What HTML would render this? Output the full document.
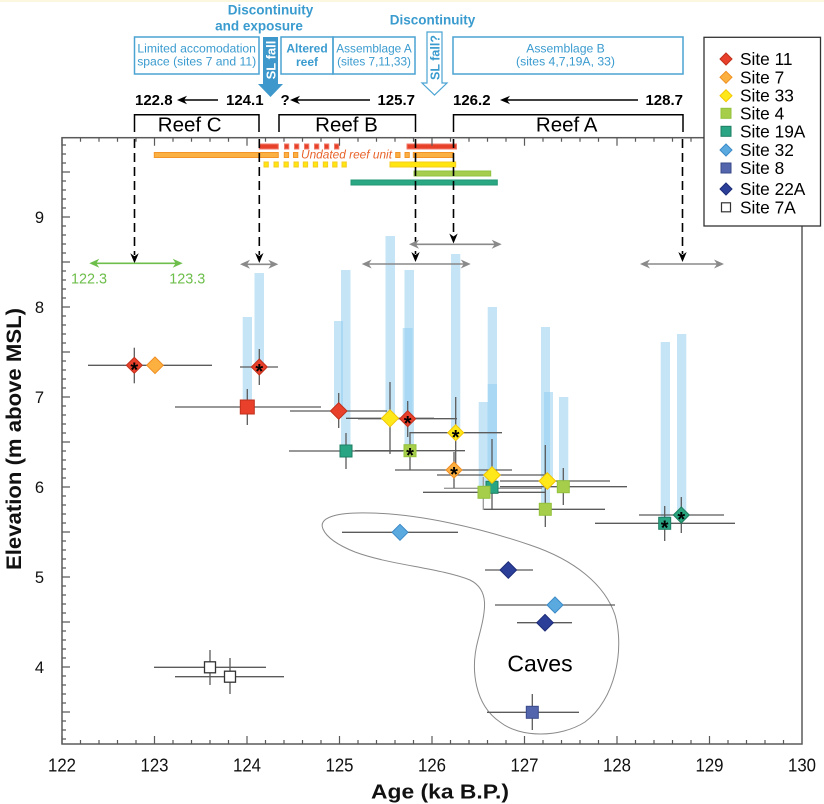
<!DOCTYPE html>
<html><head><meta charset="utf-8">
<style>
html,body{margin:0;padding:0;background:#fff;}
svg{display:block;}
text{font-family:"Liberation Sans",Arial,sans-serif;}
</style></head><body>
<svg width="824" height="804" viewBox="0 0 824 804" xmlns="http://www.w3.org/2000/svg">
<rect width="824" height="804" fill="#fff"/>
<rect width="824" height="2" fill="#fbf8df"/>

<!-- Header texts -->
<g fill="#3a9bcf" font-weight="bold" font-size="13.5" text-anchor="middle">
<text x="270.5" y="14.5">Discontinuity</text>
<text x="259" y="30.5">and exposure</text>
<text x="432.5" y="24.5">Discontinuity</text>
</g>
<g fill="none" stroke="#4ba3d3" stroke-width="1.5">
<rect x="134.5" y="37" width="124.5" height="37"/>
<rect x="281" y="37" width="52" height="37"/>
<rect x="333" y="37" width="82" height="37"/>
<rect x="453" y="37" width="230" height="37"/>
</g>
<g fill="#3a9bcf" font-size="12.2" text-anchor="middle">
<text x="196.7" y="52.5">Limited accomodation</text>
<text x="196.7" y="65.5">space (sites 7 and 11)</text>
<text x="374" y="52.5" font-size="11.8">Assemblage A</text>
<text x="374" y="65.5" font-size="11.8">(sites 7,11,33)</text>
<text x="565.5" y="52.5">Assemblage B</text>
<text x="565.5" y="65.5">(sites 4,7,19A, 33)</text>
<text x="307" y="52.5" font-weight="bold" font-size="12">Altered</text>
<text x="307" y="66" font-weight="bold" font-size="12">reef</text>
</g>
<!-- SL fall arrow -->
<polygon points="263,37 278,37 278,84 283,84 270.5,97 258,84 263,84" fill="#3f98cb"/>
<text transform="translate(275.5,60) rotate(-90)" fill="#fff" font-weight="bold" font-size="13" text-anchor="middle">SL fall</text>
<!-- SL fall? arrow -->
<polygon points="427,32 442,32 442,83 447,83 434.5,95 422,83 427,83" fill="#fff" stroke="#4ba3d3" stroke-width="1.2"/>
<text transform="translate(439.5,57.5) rotate(-90)" fill="#3a9bcf" font-weight="bold" font-size="12.5" text-anchor="middle">SL fall?</text>

<!-- Numbers row -->
<g font-weight="bold" font-size="15" fill="#000">
<text x="135" y="105">122.8</text>
<text x="226" y="105">124.1</text>
<text x="280.5" y="105">?</text>
<text x="415" y="105" text-anchor="end">125.7</text>
<text x="453" y="105">126.2</text>
<text x="683" y="105" text-anchor="end">128.7</text>
</g>
<g stroke="#000" stroke-width="1.5">
<line x1="182" y1="100" x2="218" y2="100"/>
<line x1="295" y1="100" x2="370" y2="100"/>
<line x1="505" y1="100" x2="638" y2="100"/>
</g>
<g fill="#000">
<polygon points="177,100 187,95.8 184,100 187,104.2"/>
<polygon points="290,100 300,95.8 297,100 300,104.2"/>
<polygon points="500,100 510,95.8 507,100 510,104.2"/>
</g>

<!-- Reef brackets -->
<g fill="none" stroke="#000" stroke-width="1.5">
<path d="M134.5,132 V114.8 H259 V132"/>
<path d="M279,132 V114.8 H415.5 V132"/>
<path d="M453.5,132 V114.8 H683 V132"/>
</g>
<g font-size="20.5" text-anchor="middle" fill="#000">
<text x="189.7" y="131.5">Reef C</text>
<text x="346.5" y="131.5">Reef B</text>
<text x="566.7" y="131.5">Reef A</text>
</g>

<!-- Light blue bars -->
<g fill="#8ccbf0" fill-opacity="0.5">
<rect x="242.7" y="317" width="9.3" height="90"/>
<rect x="254.5" y="273" width="9.5" height="94"/>
<rect x="334" y="321" width="9" height="90"/>
<rect x="341" y="270" width="9.5" height="181"/>
<rect x="385.5" y="236" width="9.5" height="182"/>
<rect x="404.5" y="270" width="9.5" height="181"/>
<rect x="402.7" y="328" width="10" height="91"/>
<rect x="451" y="254" width="9.3" height="179"/>
<rect x="478.7" y="402" width="9.3" height="90"/>
<rect x="487.7" y="307" width="9.3" height="180"/>
<rect x="487.7" y="384" width="9.3" height="91"/>
<rect x="541" y="327" width="9" height="182"/>
<rect x="544" y="392" width="9" height="89"/>
<rect x="559" y="397" width="9.3" height="90"/>
<rect x="660.7" y="342" width="9.3" height="181"/>
<rect x="677" y="334" width="9.3" height="181"/>
</g>

<!-- Top colored bars -->
<g stroke-width="1">
<g fill="#e8412a" stroke="#f07a68">
<rect x="259.3" y="144" width="19" height="5"/>
<rect x="284.5" y="144" width="4.3" height="5"/>
<rect x="294.5" y="144" width="4.3" height="5"/>
<rect x="304.5" y="144" width="4.3" height="5"/>
<rect x="314.5" y="144" width="4.3" height="5"/>
<rect x="324.5" y="144" width="4.3" height="5"/>
<rect x="334.5" y="144" width="4.3" height="5"/>
<rect x="407" y="144" width="49.5" height="5"/>
</g>
<g fill="#fbb043" stroke="#f39428">
<rect x="154.3" y="152.5" width="124" height="5"/>
<rect x="284.3" y="152.5" width="4.3" height="5"/>
<rect x="293.5" y="152.5" width="4.3" height="5"/>
<rect x="395.7" y="152.5" width="4.3" height="5"/>
<rect x="405" y="152.5" width="4.3" height="5"/>
<rect x="413.3" y="152.5" width="40" height="5"/>
</g>
<g fill="#ffe60f" stroke="#f6cc20">
<rect x="264" y="162" width="4.3" height="5"/>
<rect x="274" y="162" width="4.3" height="5"/>
<rect x="284" y="162" width="4.3" height="5"/>
<rect x="294" y="162" width="4.3" height="5"/>
<rect x="303.3" y="162" width="4.3" height="5"/>
<rect x="313.3" y="162" width="4.3" height="5"/>
<rect x="323.3" y="162" width="4.3" height="5"/>
<rect x="332.7" y="162" width="4.3" height="5"/>
<rect x="342" y="162" width="4.3" height="5"/>
<rect x="390" y="162" width="65.7" height="5"/>
</g>
<rect x="414" y="171" width="76.7" height="5" fill="#a6cd4e" stroke="#92c241"/>
<rect x="351" y="180" width="146.3" height="5" fill="#2aa884" stroke="#229775"/>
</g>
<text x="301" y="158.5" font-size="11.5" font-style="italic" fill="#e8632a" textLength="91" lengthAdjust="spacingAndGlyphs">Undated reef unit</text>

<!-- Dashed verticals -->
<g stroke="#000" stroke-width="1.6" stroke-dasharray="9,5">
<line x1="134.5" y1="139" x2="134.5" y2="255"/>
<line x1="259.3" y1="139" x2="259.3" y2="255"/>
<line x1="415.5" y1="139" x2="415.5" y2="254"/>
<line x1="453.5" y1="139" x2="453.5" y2="236"/>
<line x1="682.5" y1="139" x2="682.5" y2="254"/>
</g>
<g fill="#000">
<polygon points="134.5,263.3 130.3,253.3 134.5,256.3 138.7,253.3"/>
<polygon points="259.3,263 255.1,253 259.3,256 263.5,253"/>
<polygon points="415.5,262 411.3,252 415.5,255 419.7,252"/>
<polygon points="453.5,243.5 449.3,233.5 453.5,236.5 457.7,233.5"/>
<polygon points="682.5,262 678.3,252 682.5,255 686.7,252"/>
</g>

<!-- Gray double arrows -->
<g stroke="#8a8a8a" stroke-width="1.6">
<line x1="245" y1="264.3" x2="273" y2="264.3"/>
<line x1="366" y1="264" x2="466" y2="264"/>
<line x1="414" y1="244.3" x2="497" y2="244.3"/>
<line x1="645" y1="264" x2="719" y2="264"/>
</g>
<g fill="#8a8a8a">
<polygon points="240,264.3 250,259.8 247,264.3 250,268.8"/>
<polygon points="278.3,264.3 268.3,259.8 271.3,264.3 268.3,268.8"/>
<polygon points="361.7,264 371.7,259.5 368.7,264 371.7,268.5"/>
<polygon points="470.7,264 460.7,259.5 463.7,264 460.7,268.5"/>
<polygon points="409,244.3 419,239.8 416,244.3 419,248.8"/>
<polygon points="501.7,244.3 491.7,239.8 494.7,244.3 491.7,248.8"/>
<polygon points="640,264 650,259.5 647,264 650,268.5"/>
<polygon points="724,264 714,259.5 717,264 714,268.5"/>
</g>
<!-- Green arrow -->
<line x1="94" y1="263.3" x2="178" y2="263.3" stroke="#6dbe4b" stroke-width="1.6"/>
<g fill="#6dbe4b">
<polygon points="89.3,263.3 99.3,258.8 96.3,263.3 99.3,267.8"/>
<polygon points="182.7,263.3 172.7,258.8 175.7,263.3 172.7,267.8"/>
</g>
<g fill="#6dbe4b" font-size="14.4" text-anchor="middle">
<text x="89" y="283.3">122.3</text>
<text x="187.3" y="283.3">123.3</text>
</g>

<!-- Caves outline -->
<path d="M323,529 C318,518 335,512 370,513 C420,514 480,528 530,545 C575,560 605,585 615,615 C625,650 615,700 585,722 C560,738 520,738 500,722 C475,705 470,670 478,640 C486,610 490,590 470,580 C440,568 390,565 355,552 C335,544 326,536 323,529 Z" fill="none" stroke="#8a8a8a" stroke-width="1"/>
<text x="540" y="671.5" font-size="23" text-anchor="middle" fill="#000">Caves</text>

<!-- Error bars -->
<g stroke="#5b5b5b" stroke-width="1.3">
<line x1="88" y1="365.3" x2="212" y2="365.3"/>
<line x1="240" y1="367" x2="278" y2="367"/>
<line x1="175" y1="407" x2="321" y2="407"/>
<line x1="290" y1="411" x2="387" y2="411"/>
<line x1="289" y1="451" x2="403" y2="451"/>
<line x1="346" y1="418.3" x2="434" y2="418.3"/>
<line x1="358" y1="418.7" x2="457" y2="418.7"/>
<line x1="355" y1="450.7" x2="465" y2="450.7"/>
<line x1="410" y1="432.7" x2="502" y2="432.7"/>
<line x1="395" y1="470" x2="512" y2="470"/>
<line x1="437" y1="475" x2="545" y2="475"/>
<line x1="500" y1="481" x2="610" y2="481"/>
<line x1="500" y1="486.7" x2="627" y2="486.7"/>
<line x1="444" y1="488.3" x2="542" y2="488.3" stroke="#999"/>
<line x1="423" y1="492.3" x2="545" y2="492.3"/>
<line x1="484" y1="509.3" x2="605" y2="509.3"/>
<line x1="595" y1="523.3" x2="735" y2="523.3"/>
<line x1="639" y1="515" x2="724" y2="515"/>
<line x1="342" y1="532.3" x2="458" y2="532.3"/>
<line x1="495" y1="605" x2="615" y2="605"/>
<line x1="485" y1="570" x2="533" y2="570"/>
<line x1="517" y1="622.7" x2="572" y2="622.7"/>
<line x1="487" y1="712.3" x2="579" y2="712.3"/>
<line x1="154" y1="667.3" x2="266" y2="667.3"/>
<line x1="175" y1="676.7" x2="284" y2="676.7"/>
<line x1="134.3" y1="347.7" x2="134.3" y2="383.3"/>
<line x1="259.3" y1="349" x2="259.3" y2="385"/>
<line x1="247.3" y1="389" x2="247.3" y2="425"/>
<line x1="338.7" y1="393" x2="338.7" y2="428"/>
<line x1="346" y1="433" x2="346" y2="469"/>
<line x1="390" y1="382" x2="390" y2="454"/>
<line x1="407.7" y1="401" x2="407.7" y2="437"/>
<line x1="410" y1="432" x2="410" y2="470"/>
<line x1="455.7" y1="397" x2="455.7" y2="468"/>
<line x1="454" y1="452" x2="454" y2="488"/>
<line x1="492" y1="439" x2="492" y2="510"/>
<line x1="483.3" y1="477" x2="483.3" y2="510" stroke="#999"/>
<line x1="545.3" y1="445" x2="545.3" y2="527"/>
<line x1="563.3" y1="468" x2="563.3" y2="505"/>
<line x1="664.7" y1="506" x2="664.7" y2="541"/>
<line x1="681.3" y1="497" x2="681.3" y2="533"/>
<line x1="532.3" y1="694" x2="532.3" y2="730"/>
<line x1="210" y1="650" x2="210" y2="685"/>
<line x1="230" y1="658" x2="230" y2="694"/>
</g>

<!-- Markers -->
<g stroke-width="1">
<g fill="#2aa584" stroke="#1c7d62">
<rect x="340" y="445" width="12" height="12"/>
<rect x="486" y="481.3" width="12" height="12"/>
<rect x="658.7" y="517.3" width="12" height="12"/>
</g>
<g fill="#a6ce4b" stroke="#93c13c">
<rect x="404" y="444.7" width="12" height="12"/>
<rect x="478" y="486.3" width="12" height="12"/>
<rect x="539.3" y="503.3" width="12" height="12"/>
<rect x="557.3" y="480.7" width="12" height="12"/>
</g>
<rect x="240.3" y="400" width="14" height="14" fill="#e8402a" stroke="#c0301c"/>
<g fill="#ffe81a" stroke="#f2c500">
<polygon points="390,409.8 398.5,418.3 390,426.8 381.5,418.3"/>
<polygon points="455.7,424.7 463.7,432.7 455.7,440.7 447.7,432.7"/>
<polygon points="492,466.7 500.3,475 492,483.3 483.7,475"/>
<polygon points="547.3,472.7 555.6,481 547.3,489.3 539,481"/>
</g>
<g fill="#fbb040" stroke="#f08e22">
<polygon points="155,357 163.3,365.3 155,373.6 146.7,365.3"/>
<polygon points="454,462 462,470 454,478 446,470"/>
</g>
<g fill="#e8402a" stroke="#c0301c">
<polygon points="134.3,357.3 142.3,365.3 134.3,373.3 126.3,365.3"/>
<polygon points="259.3,359 267.3,367 259.3,375 251.3,367"/>
<polygon points="338.7,402.7 347,411 338.7,419.3 330.4,411"/>
<polygon points="407.7,410.7 415.7,418.7 407.7,426.7 399.7,418.7"/>
</g>
<polygon points="681.3,507 689.3,515 681.3,523 673.3,515" fill="#2aa57e" stroke="#1c7d5e"/>
<g fill="#5aa9df" stroke="#3c8bc8">
<polygon points="400,524.3 408,532.3 400,540.3 392,532.3"/>
<polygon points="555,597 563,605 555,613 547,605"/>
</g>
<g fill="#2b3f98" stroke="#1d2c78">
<polygon points="508.3,561.7 516.6,570 508.3,578.3 500,570"/>
<polygon points="545,614.4 553.3,622.7 545,631 536.7,622.7"/>
</g>
<rect x="526.3" y="706.3" width="12" height="12" fill="#5365ad" stroke="#3a4a8a"/>
<g fill="#fff" stroke="#333" stroke-width="1.3">
<rect x="204.5" y="661.8" width="11" height="11"/>
<rect x="224.5" y="671.2" width="11" height="11"/>
</g>
</g>
<!-- Stars -->
<g font-size="20" font-weight="bold" text-anchor="middle" fill="#000">
<text x="134.3" y="376.5">*</text>
<text x="259.3" y="378.2">*</text>
<text x="407.7" y="429.9">*</text>
<text x="454" y="481.2">*</text>
<text x="455.7" y="443.9">*</text>
<text x="410" y="461.9">*</text>
<text x="664.7" y="534.5">*</text>
<text x="681.3" y="526.2">*</text>
</g>

<!-- Plot frame -->
<rect x="62" y="137.7" width="740" height="606.3" fill="none" stroke="#5a5a5a" stroke-width="1.5"/>
<path stroke="#5a5a5a" stroke-width="1.2" fill="none" d="
M62,744v-8 M80.5,744v-4 M99,744v-4 M117.5,744v-4 M136,744v-4 M154.5,744v-8 M173,744v-4 M191.5,744v-4 M210,744v-4 M228.5,744v-4
M247,744v-8 M265.5,744v-4 M284,744v-4 M302.5,744v-4 M321,744v-4 M339.5,744v-8 M358,744v-4 M376.5,744v-4 M395,744v-4 M413.5,744v-4
M432,744v-8 M450.5,744v-4 M469,744v-4 M487.5,744v-4 M506,744v-4 M524.5,744v-8 M543,744v-4 M561.5,744v-4 M580,744v-4 M598.5,744v-4
M617,744v-8 M635.5,744v-4 M654,744v-4 M672.5,744v-4 M691,744v-4 M709.5,744v-8 M728,744v-4 M746.5,744v-4 M765,744v-4 M783.5,744v-4
M62,137.7v8 M80.5,137.7v4 M99,137.7v4 M117.5,137.7v4 M136,137.7v4 M154.5,137.7v8 M173,137.7v4 M191.5,137.7v4 M210,137.7v4 M228.5,137.7v4
M247,137.7v8 M265.5,137.7v4 M284,137.7v4 M302.5,137.7v4 M321,137.7v4 M339.5,137.7v8 M358,137.7v4 M376.5,137.7v4 M395,137.7v4 M413.5,137.7v4
M432,137.7v8 M450.5,137.7v4 M469,137.7v4 M487.5,137.7v4 M506,137.7v4 M524.5,137.7v8 M543,137.7v4 M561.5,137.7v4 M580,137.7v4 M598.5,137.7v4
M617,137.7v8 M635.5,137.7v4 M654,137.7v4 M672.5,137.7v4 M691,137.7v4
"/>
<path stroke="#5a5a5a" stroke-width="1.2" fill="none" d="
M62,739h4 M62,730h4 M62,721h4 M62,712h8 M62,703h4 M62,694h4 M62,685h4 M62,676h4 M62,667h8
M62,658h4 M62,649h4 M62,640h4 M62,631h4 M62,622h8 M62,613h4 M62,604h4 M62,595h4 M62,586h4 M62,577h8
M62,568h4 M62,559h4 M62,550h4 M62,541h4 M62,532h8 M62,523h4 M62,514h4 M62,505h4 M62,496h4 M62,487h8
M62,478h4 M62,469h4 M62,460h4 M62,451h4 M62,442h8 M62,433h4 M62,424h4 M62,415h4 M62,406h4 M62,397h8
M62,388h4 M62,379h4 M62,370h4 M62,361h4 M62,352h8 M62,343h4 M62,334h4 M62,325h4 M62,316h4 M62,307h8
M62,298h4 M62,289h4 M62,280h4 M62,271h4 M62,262h8 M62,253h4 M62,244h4 M62,235h4 M62,226h4 M62,217h8
M62,208h4 M62,199h4 M62,190h4 M62,181h4 M62,172h8 M62,163h4 M62,154h4 M62,145h4
"/>
<g font-size="18.5" text-anchor="middle" fill="#111">
<text x="62" y="771.5" textLength="28" lengthAdjust="spacingAndGlyphs">122</text>
<text x="154.5" y="771.5" textLength="28" lengthAdjust="spacingAndGlyphs">123</text>
<text x="247" y="771.5" textLength="28" lengthAdjust="spacingAndGlyphs">124</text>
<text x="339.5" y="771.5" textLength="28" lengthAdjust="spacingAndGlyphs">125</text>
<text x="432" y="771.5" textLength="28" lengthAdjust="spacingAndGlyphs">126</text>
<text x="524.5" y="771.5" textLength="28" lengthAdjust="spacingAndGlyphs">127</text>
<text x="617" y="771.5" textLength="28" lengthAdjust="spacingAndGlyphs">128</text>
<text x="709.5" y="771.5" textLength="28" lengthAdjust="spacingAndGlyphs">129</text>
<text x="802" y="771.5" textLength="28" lengthAdjust="spacingAndGlyphs">130</text>
</g>
<g font-size="16.5" text-anchor="middle" fill="#111">
<text x="39.5" y="673">4</text>
<text x="39.5" y="583">5</text>
<text x="39.5" y="493">6</text>
<text x="39.5" y="403">7</text>
<text x="39.5" y="313">8</text>
<text x="39.5" y="223">9</text>
</g>
<text x="440" y="798.5" font-weight="bold" font-size="20" text-anchor="middle" textLength="138" lengthAdjust="spacingAndGlyphs" fill="#111">Age (ka B.P.)</text>
<text transform="translate(21,439) rotate(-90)" font-weight="bold" font-size="21.5" text-anchor="middle" textLength="262" lengthAdjust="spacingAndGlyphs" fill="#111">Elevation (m above MSL)</text>

<!-- Legend -->
<rect x="704" y="37.3" width="116.5" height="188.7" fill="#fff" stroke="#333" stroke-width="1.3"/>
<g stroke-width="1">
<polygon points="726,53 732,59 726,65 720,59" fill="#e8402a" stroke="#c0301c"/>
<polygon points="726,71.3 732,77.3 726,83.3 720,77.3" fill="#fbb040" stroke="#f08e22"/>
<polygon points="726,89.7 732,95.7 726,101.7 720,95.7" fill="#ffe81a" stroke="#f2c500"/>
<rect x="721" y="108.3" width="10" height="10" fill="#a6ce4b" stroke="#93c13c"/>
<rect x="721" y="126.3" width="10" height="10" fill="#2aa584" stroke="#1c7d62"/>
<polygon points="726,144 732,150 726,156 720,150" fill="#5aa9df" stroke="#3c8bc8"/>
<rect x="721" y="163" width="10" height="10" fill="#5365ad" stroke="#3a4a8a"/>
<polygon points="726,183 732,189 726,195 720,189" fill="#2b3f98" stroke="#1d2c78"/>
<rect x="721.5" y="202.8" width="9" height="9" fill="#fff" stroke="#333" stroke-width="1.2"/>
</g>
<g font-size="17.3" fill="#000">
<text x="740" y="65">Site 11</text>
<text x="740" y="83.3">Site 7</text>
<text x="740" y="101.7">Site 33</text>
<text x="740" y="119.5">Site 4</text>
<text x="740" y="137.5">Site 19A</text>
<text x="740" y="156">Site 32</text>
<text x="740" y="174">Site 8</text>
<text x="740" y="195">Site 22A</text>
<text x="740" y="213.3">Site 7A</text>
</g>
</svg>
</body></html>
